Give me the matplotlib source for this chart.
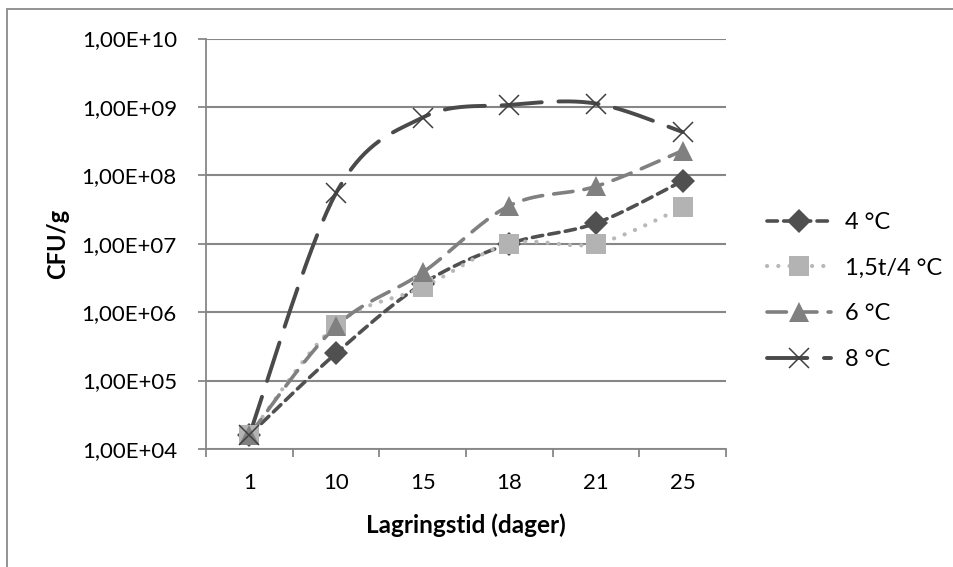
import numpy as np
import matplotlib
matplotlib.use("Agg")
import matplotlib.pyplot as plt
from matplotlib.patches import Rectangle
from matplotlib.ticker import FixedLocator, FuncFormatter

plt.rcParams['font.family'] = ['Lato', 'DejaVu Sans']
plt.rcParams['lines.scale_dashes'] = False

categories = ["1", "10", "15", "18", "21", "25"]
series_names = ["4 °C", "1,5t/4 °C", "6 °C", "8 °C"]
v_4C = [1.6e4, 2.5e5, 2.6e6, 1.0e7, 2.0e7, 8.3e7]
v_15t4C = [1.6e4, 6.5e5, 2.3e6, 1.0e7, 1.0e7, 3.4e7]
v_6C = [1.6e4, 6.2e5, 3.8e6, 3.6e7, 6.9e7, 2.3e8]
v_8C = [1.6e4, 5.5e7, 7.0e8, 1.07e9, 1.12e9, 4.3e8]
y_ticks = [1e4, 1e5, 1e6, 1e7, 1e8, 1e9, 1e10]


def smooth(xs, ys, n=40):
    """Excel-like Bezier smoothing in (index, log10 y) space."""
    xs = np.asarray(xs, float)
    ly = np.log10(np.asarray(ys, float))
    P = np.column_stack([xs, ly])
    m = len(P)
    out = []
    t = np.linspace(0, 1, n)[:, None]
    for i in range(m - 1):
        p0 = P[i]
        p3 = P[i + 1]
        pm = P[i - 1] if i > 0 else P[i]
        pp = P[i + 2] if i + 2 < m else P[i + 1]
        c1 = p0 + (p3 - pm) / 6.0
        c2 = p3 - (pp - p0) / 6.0
        seg = ((1 - t) ** 3) * p0 + 3 * ((1 - t) ** 2) * t * c1 + 3 * (1 - t) * t ** 2 * c2 + t ** 3 * p3
        if i > 0:
            seg = seg[1:]
        out.append(seg)
    out = np.vstack(out)
    return out[:, 0], 10 ** out[:, 1]


W, H = 954, 567
fig = plt.figure(figsize=(W / 100, H / 100), dpi=100)
fig.patches.append(Rectangle((7 / W, -0.1), 1.2, 1 - 9 / H + 0.1, transform=fig.transFigure,
                             fill=False, edgecolor='#8a8a8a', linewidth=1.3, zorder=0))

ax_h = 449 - 38.5
ax = fig.add_axes([206 / W, 1 - 449 / H, 520 / W, ax_h / H])
ax.set_yscale('log')
ax.set_ylim(1e4, 1e10)
ax.set_xlim(-0.5, len(categories) - 0.5)

x = np.arange(len(categories))
styles = [
    dict(data=v_4C, color='#505050', dashes=(7.5, 4.5), marker='D', ms=12, mfc='#505050', mec='#505050', mew=0, lw=2.6),
    dict(data=v_15t4C, color='#b8b8b8', dashes=(0.1, 8.0), marker='s', ms=14, mfc='#b3b3b3', mec='#b3b3b3', mew=0, lw=3.0),
    dict(data=v_6C, color='#808080', dashes=(14, 8), marker='^', ms=15, mfc='#808080', mec='#808080', mew=0, lw=2.6),
    dict(data=v_8C, color='#4a4a4a', dashes=(29, 12), marker='x', ms=14, mfc='#404040', mec='#404040', mew=1.1, lw=2.8),
]

handles = []
for name, st in zip(series_names, styles):
    sx, sy = smooth(x, st['data'])
    ax.plot(sx, sy, color=st['color'], lw=st['lw'], dashes=st['dashes'],
            dash_capstyle='round', solid_capstyle='round', zorder=3)
    ax.plot(x, st['data'], linestyle='none', marker=st['marker'], ms=st['ms'],
            mfc=st['mfc'], mec=st['mec'], mew=st['mew'], zorder=4)
    h, = ax.plot([], [], color=st['color'], lw=st['lw'], dashes=st['dashes'],
                 dash_capstyle='round', marker=st['marker'], ms=st['ms'],
                 mfc=st['mfc'], mec=st['mec'], mew=st['mew'])
    handles.append(h)

# grid and spines
ax.yaxis.set_major_locator(FixedLocator(y_ticks))
ax.yaxis.set_minor_locator(FixedLocator([]))
ax.yaxis.set_major_formatter(FuncFormatter(lambda v, p: "1,00E+%02d" % int(round(np.log10(v)))))
ax.grid(axis='y', color='#878787', linewidth=1.5)
ax.set_axisbelow(True)
for s in ['top', 'right']:
    ax.spines[s].set_visible(False)
for s in ['left', 'bottom']:
    ax.spines[s].set_color('#878787')
    ax.spines[s].set_linewidth(1.3)

ax.set_xticks(x)
ax.set_xticklabels(categories)
ax.set_xticks(np.arange(-0.5, len(categories)), minor=True)
ax.tick_params(axis='x', which='major', length=0, pad=17, labelsize=16, labelcolor='black')
ax.tick_params(axis='x', which='minor', length=6, width=1.3, color='#878787', direction='out')
ax.tick_params(axis='y', which='major', length=6, width=1.3, color='#878787', direction='out',
               pad=15, labelsize=16, labelcolor='black')

ax.set_xlabel("Lagringstid (dager)", fontsize=17.5, fontweight='bold')
ax.set_ylabel("CFU/g", fontsize=17, fontweight='bold')
ax.xaxis.label.set_verticalalignment('center')
ax.yaxis.label.set_verticalalignment('center')
ax.xaxis.set_label_coords(466 / 520 - 206 / 520 + 0.0, -(525 - 449) / ax_h)
ax.yaxis.set_label_coords(-(206 - 58) / 520, 0.5)

leg = fig.legend(handles, series_names, loc='center left', bbox_to_anchor=(767 / W, 1 - 291 / H),
                 frameon=False, fontsize=17, handlelength=2.7, handletextpad=0.6,
                 labelspacing=1.05, borderpad=0, borderaxespad=0, numpoints=1)

fig.savefig("out.png", dpi=100)
